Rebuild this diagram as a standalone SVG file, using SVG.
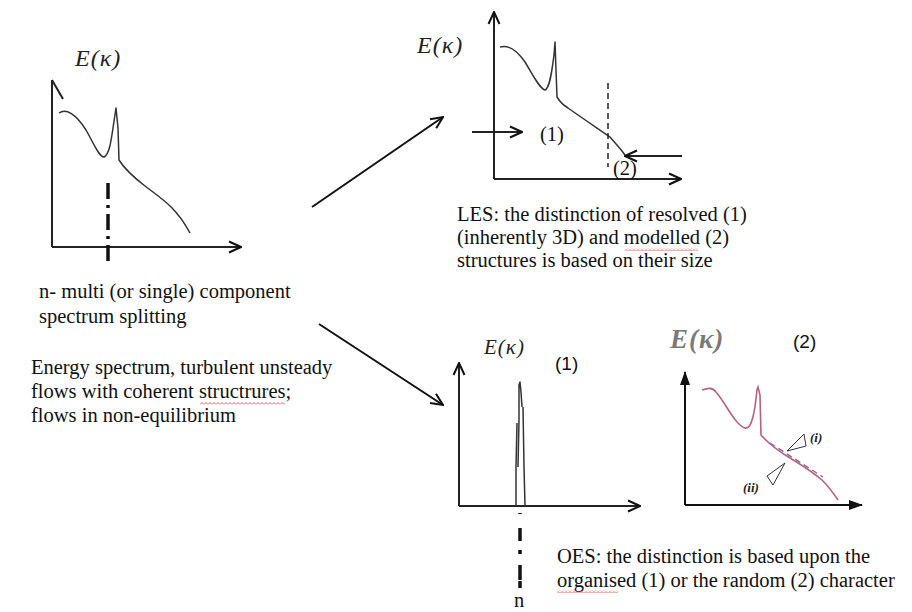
<svg xmlns="http://www.w3.org/2000/svg" width="912" height="612" viewBox="0 0 912 612">
<style>
.t{font-family:"Liberation Serif","Times New Roman",serif;font-size:20.5px;fill:#111}
.ek{font-family:"Liberation Serif","Times New Roman",serif;font-style:italic;fill:#222;letter-spacing:1px}
.a{font-family:"Liberation Sans",Arial,sans-serif;fill:#111}
.ax{stroke:#222;stroke-width:2;fill:none}
.cv{stroke:#333;stroke-width:1.5;fill:none;stroke-linejoin:round}
.dd{stroke:#111;stroke-width:3.5;fill:none}
</style>
<defs>
<marker id="open" viewBox="0 0 14 14" refX="13" refY="7" markerWidth="14" markerHeight="14" markerUnits="userSpaceOnUse" orient="auto">
<path d="M1,1.5 L13,7 L1,12.5" fill="none" stroke="#111" stroke-width="2"/>
</marker>
<marker id="solid" viewBox="0 0 14 12" refX="13" refY="6" markerWidth="14" markerHeight="12" markerUnits="userSpaceOnUse" orient="auto">
<path d="M0,1 L14,6 L0,11 Z" fill="#111"/>
</marker>
<pattern id="sq" width="4" height="3" patternUnits="userSpaceOnUse">
<path d="M0,2.5 L2,0.5 L4,2.5" stroke="#e03a3a" fill="none" stroke-width="0.8"/>
</pattern>
</defs>
<rect width="912" height="612" fill="#fff"/>

<g id="panel-multi">
<text class="ek" x="75" y="66" font-size="24">E(κ)</text>
<line class="ax" x1="52" y1="80" x2="52" y2="247"/>
<path class="ax" d="M52,80 L63,99"/>
<line class="ax" x1="52" y1="247" x2="241" y2="247" marker-end="url(#open)"/>
<path class="cv" d="M59,113 C66,108 76,114 86,130 C94,144 99,157 104,157 C109,155 111,142 113,128 L116,108 L118,128 L119,160 C124,168 132,176 145,186 C162,199 176,207 190,233"/>
<line class="dd" x1="108" y1="183" x2="108" y2="267" stroke-dasharray="16,6,3,6"/>
<text class="t" x="39" y="298">n- multi (or single) component</text>
<text class="t" x="39" y="323">spectrum splitting</text>
<text class="t" x="31" y="374">Energy spectrum, turbulent unsteady</text>
<text class="t" x="31" y="398">flows with coherent structrures;</text>
<text class="t" x="31" y="422">flows in non-equilibrium</text>
<rect x="200" y="402" width="85" height="3" fill="url(#sq)"/>
</g>

<g id="panel-les">
<text class="ek" x="417" y="53" font-size="24">E(κ)</text>
<line class="ax" x1="494" y1="179" x2="494" y2="12" marker-end="url(#open)"/>
<line class="ax" x1="494" y1="179" x2="681" y2="179" marker-end="url(#open)"/>
<path class="cv" d="M500,47 C510,44 518,52 525,62 C533,75 539,88 545,90 C550,88 552,70 554,55 L555,42 L556,70 L557,97 C560,102 563,105 568,108 C585,120 600,130 610,137 C615,143 620,148 625,155"/>
<line x1="608" y1="83" x2="608" y2="167" stroke="#222" stroke-width="1.5" stroke-dasharray="6,4"/>
<line class="ax" x1="472" y1="132" x2="522" y2="132" marker-end="url(#open)"/>
<line class="ax" x1="682" y1="156" x2="625" y2="156" marker-end="url(#open)"/>
<text class="t" x="540" y="141" font-size="19">(1)</text>
<text class="t" x="613" y="175" font-size="19">(2)</text>
<text class="t" x="457" y="221">LES: the distinction of resolved (1)</text>
<text class="t" x="457" y="244">(inherently 3D) and modelled (2)</text>
<text class="t" x="457" y="267">structures is based on their size</text>
<rect x="625" y="248" width="73" height="3" fill="url(#sq)"/>
</g>

<g id="panel-oes1">
<text class="ek" x="484" y="354" font-size="21">E(κ)</text>
<line class="ax" x1="459" y1="506" x2="459" y2="363" marker-end="url(#open)"/>
<line class="ax" x1="459" y1="506" x2="640" y2="506" marker-end="url(#open)"/>
<path class="cv" d="M516,506 L516,467 L517,423 M518,467 L519,420 L519,385 L520,382 L521,392 L522,407 M525,506 L524,467 L523,407"/>
<text class="a" x="555" y="370" font-size="19">(1)</text>
<line class="dd" x1="520" y1="513" x2="520" y2="588" stroke-dasharray="1,14,13,9,4,11,15"/>
<text class="t" x="514" y="607" font-size="17">n</text>
</g>

<g id="panel-oes2">
<text class="ek" x="670" y="348" font-size="27" font-weight="bold" style="fill:#7a7a7a">E(κ)</text>
<text class="a" x="793" y="348" font-size="19">(2)</text>
<line x1="685" y1="505" x2="685" y2="372" stroke="#111" stroke-width="2" marker-end="url(#solid)"/>
<line x1="685" y1="505" x2="862" y2="505" stroke="#111" stroke-width="2" marker-end="url(#solid)"/>
<path d="M702,390 C708,388 712,387 716,392 C725,402 735,425 745,428 C752,430 755,410 757,390 L758,387 L760,395 L761,435 C770,445 780,452 790,458 C805,467 815,474 822,480 C830,488 834,494 838,500" fill="none" stroke="#b8607c" stroke-width="1.6"/>
<line x1="770" y1="443" x2="823" y2="477" stroke="#8a6a9a" stroke-width="1.4" stroke-dasharray="6,4"/>
<path d="M787,451 L804,434 L806,446 Z" fill="#fff" stroke="#333" stroke-width="1"/>
<path d="M785,463 L767,476 L773,485 Z" fill="#fff" stroke="#333" stroke-width="1"/>
<text class="ek" x="810" y="442" font-size="13" font-weight="bold" style="letter-spacing:0">(i)</text>
<text class="ek" x="743" y="492" font-size="13" font-weight="bold" style="letter-spacing:0">(ii)</text>
<text class="t" x="557" y="563">OES: the distinction is based upon the</text>
<text class="t" x="557" y="587">organised (1) or the random (2) character</text>
<rect x="557" y="590" width="61" height="3" fill="url(#sq)"/>
</g>

<g id="connectors">
<line x1="312" y1="207" x2="443" y2="117" stroke="#111" stroke-width="2" marker-end="url(#open)"/>
<line x1="319" y1="324" x2="443" y2="405" stroke="#111" stroke-width="2" marker-end="url(#open)"/>
</g>
</svg>
